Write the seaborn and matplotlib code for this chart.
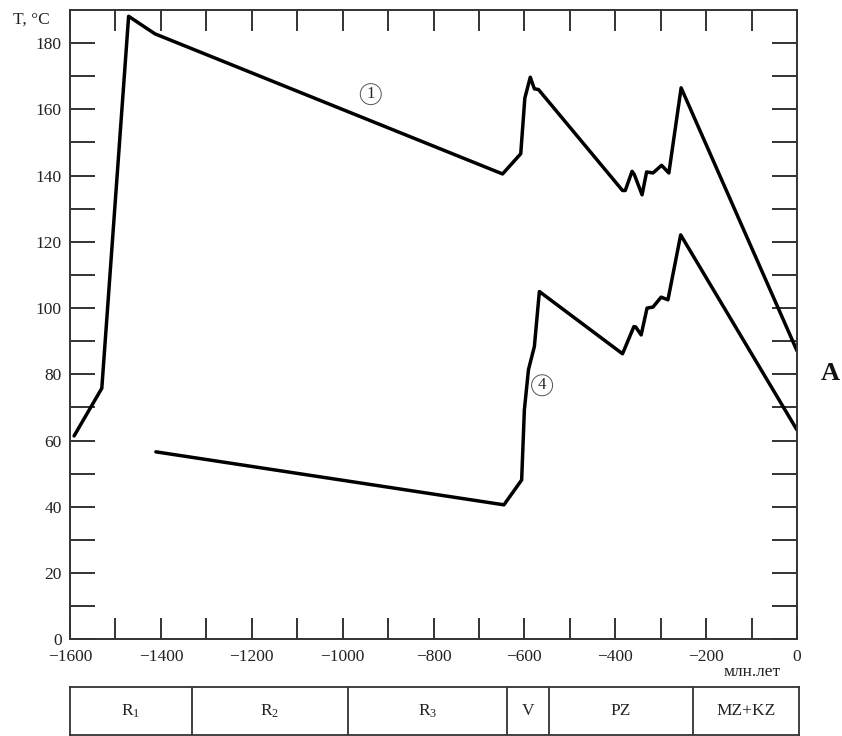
import numpy as np
import pandas as pd
import matplotlib
matplotlib.use("Agg")
import matplotlib.pyplot as plt
import seaborn as sns

# Curve 1: temperature history (time in Ma, negative = past)
t1 = [-1591, -1530, -1471, -1413, -648, -608, -599, -587, -578, -569,
      -384, -378, -363, -358, -341, -331, -317, -298, -282, -255, 0]
T1 = [61.4, 75.8, 188.1, 182.8, 140.5, 146.6, 163.4, 169.7, 166.2, 166.0,
      135.5, 135.5, 141.3, 140.3, 134.2, 141.1, 140.8, 143.1, 140.8, 166.5, 87.1]

# Curve 4
t4 = [-1411, -645, -606, -600, -591, -578, -567, -384, -359, -355, -343,
      -330, -317, -299, -284, -256, 0]
T4 = [56.6, 40.6, 48.1, 69.3, 81.4, 88.4, 105.0, 86.2, 94.4, 94.3, 91.9,
      100.0, 100.3, 103.3, 102.5, 122.1, 63.2]

# Stratigraphic scale under the time axis
period_names = ["R$_{1}$", "R$_{2}$", "R$_{3}$", "V", "PZ", "MZ+KZ"]
period_bounds = [-1600, -1333, -989, -641, -548, -233, 0]

x_major = list(range(-1600, 1, 200))
y_major = list(range(0, 181, 20))

sns.set_theme(style="white")
plt.rcParams["font.family"] = ["Liberation Serif", "DejaVu Serif"]
plt.rcParams["mathtext.fontset"] = "custom"
plt.rcParams["mathtext.rm"] = "Liberation Serif"
plt.rcParams["mathtext.it"] = "Liberation Serif"
plt.rcParams["mathtext.default"] = "regular"

fig = plt.figure(figsize=(8.42, 7.36), dpi=100)
W, H = 842, 736
ax = fig.add_axes([70 / W, 1 - 639.3 / H, 727 / W, 629.3 / H])

df = pd.concat([
    pd.DataFrame({"t": t1, "T": T1, "curve": "1"}),
    pd.DataFrame({"t": t4, "T": T4, "curve": "4"}),
], ignore_index=True)
sns.lineplot(data=df, x="t", y="T", units="curve", estimator=None, sort=False,
             color="black", lw=2.5, ax=ax, legend=False)

ax.set_xlim(-1600, 0)
ax.set_ylim(0, 190)
ax.set_xticks(x_major)
ax.set_xticks(range(-1600, 1, 100), minor=True)
ax.set_yticks(y_major)
ax.set_yticks(range(0, 181, 10), minor=True)
ax.set_xlabel("")
ax.set_ylabel("")
ax.tick_params(axis="both", which="both", direction="in", top=True, right=True,
               bottom=True, left=True, color="#333333", width=1.4,
               labelsize=12.5, labelcolor="#222222")
ax.tick_params(axis="x", which="both", length=15, pad=7)
ax.tick_params(axis="y", which="both", length=18, pad=6)
ax.tick_params(labeltop=False, labelright=False)
for s in ax.spines.values():
    s.set_color("#333333")
    s.set_linewidth(1.4)

# Circled curve numbers
circ = dict(boxstyle="circle,pad=0.15", fc="white", ec="#555555", lw=0.7)
ax.text(-938, 164.6, "1", fontsize=12, ha="center", va="center", bbox=circ)
ax.text(-561, 76.7, "4", fontsize=12, ha="center", va="center", bbox=circ)

fig.text(31 / W, 1 - 20 / H, "T, °C", fontsize=12.5, ha="center", va="center",
         color="#222222")
fig.text(752 / W, 1 - 672 / H, "млн.лет", fontsize=12.5, ha="center", va="center",
         color="#222222")
fig.text(830 / W, 1 - 374 / H, "A", fontsize=19, fontweight="bold",
         ha="center", va="center", color="#111111")

# Period table
tax = fig.add_axes([70 / W, 1 - 735 / H, 729 / W, 48 / H])
tax.set_xlim(period_bounds[0], period_bounds[-1])
tax.set_ylim(0, 1)
tax.set_xticks([])
tax.set_yticks([])
for s in tax.spines.values():
    s.set_color("#333333")
    s.set_linewidth(1.3)
for b in period_bounds[1:-1]:
    tax.axvline(b, color="#333333", lw=1.3)
for name, a, b in zip(period_names, period_bounds[:-1], period_bounds[1:]):
    tax.text((a + b) / 2, 0.5, name, fontsize=12.5, ha="center", va="center",
             color="#222222")

fig.savefig("out.png", dpi=100, facecolor="white")
